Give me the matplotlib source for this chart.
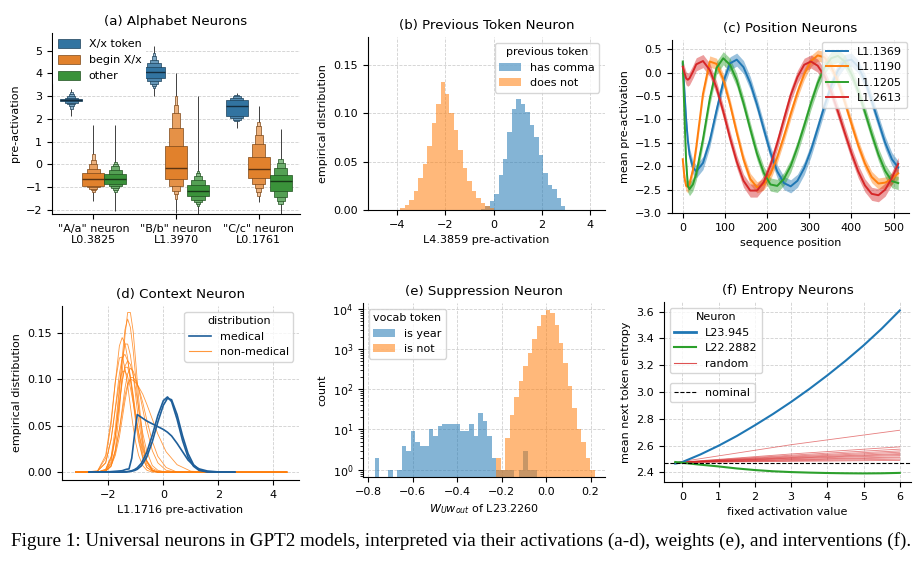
import numpy as np
import matplotlib
matplotlib.use("Agg")
import matplotlib.pyplot as plt
from matplotlib.patches import Patch
from matplotlib.lines import Line2D
from matplotlib.colors import to_rgb

plt.rcParams['font.family'] = 'DejaVu Sans'
plt.rcParams['font.size'] = 8
plt.rcParams['axes.titlesize'] = 9.6

# ---------------- (a) alphabet neurons (letter-value boxes, innermost first) ----------------
neuron_labels = ['"A/a" neuron\nL0.3825', '"B/b" neuron\nL1.3970', '"C/c" neuron\nL0.1761']
hue_names = ['X/x token', 'begin X/x', 'other']
hue_colors = ['#3274a1', '#e1812c', '#3a923a']

token_levels = [
    [(2.77, 2.88), (2.72, 2.93), (2.66, 3.00), (2.58, 3.08), (2.45, 3.18)],
    [(3.78, 4.30), (3.65, 4.45), (3.55, 4.60), (3.45, 4.75), (3.35, 4.90)],
    [(2.12, 2.83), (2.03, 2.93), (1.97, 3.00), (1.90, 3.05)],
]
token_medians = [2.83, 4.05, 2.58]
token_ranges = [(2.15, 3.33), (3.0, 5.2), (1.6, 3.12)]

begin_levels = [
    [(-0.93, -0.38), (-1.00, -0.20), (-1.07, 0.00), (-1.13, 0.20), (-1.22, 0.45)],
    [(-0.65, 0.80), (-0.95, 1.60), (-1.15, 2.25), (-1.30, 2.60), (-1.50, 3.00)],
    [(-0.60, 0.32), (-0.85, 0.90), (-1.05, 1.30), (-1.20, 1.70), (-1.40, 1.85)],
]
begin_medians = [-0.65, -0.17, -0.18]
begin_ranges = [(-1.6, 1.75), (-2.15, 4.0), (-1.65, 2.55)]

other_levels = [
    [(-0.86, -0.42), (-0.97, -0.25), (-1.05, -0.08), (-1.12, 0.03), (-1.20, 0.12)],
    [(-1.40, -0.90), (-1.55, -0.70), (-1.65, -0.50), (-1.75, -0.38), (-1.85, -0.30)],
    [(-1.18, -0.45), (-1.45, -0.15), (-1.60, 0.05), (-1.75, 0.22)],
]
other_medians = [-0.63, -1.15, -0.75]
other_ranges = [(-2.05, 1.72), (-2.2, 3.0), (-2.2, 1.55)]

# ---------------- (b) previous token neuron ----------------
b_bin_start = -3.86
b_bin_width = 0.1845
comma_probs = [0] * 18 + [0.001, 0.004, 0.009, 0.017, 0.036, 0.053, 0.081, 0.105, 0.115,
                          0.110, 0.101, 0.088, 0.076, 0.057, 0.038, 0.026, 0.022, 0.012, 0.004]
nocomma_probs = [0.002, 0.005, 0.010, 0.020, 0.033, 0.048, 0.066, 0.090, 0.110, 0.132,
                 0.120, 0.100, 0.083, 0.062, 0.043, 0.030, 0.020, 0.012, 0.007, 0.004,
                 0.002] + [0] * 16

# ---------------- (c) position neurons ----------------
positions = [0, 4, 8, 12, 16, 24, 32, 48, 64, 80, 96, 112, 128, 144, 160, 176, 192, 208,
             224, 240, 256, 272, 288, 304, 320, 336, 352, 368, 384, 400, 416, 432, 448,
             464, 480, 496, 511]
pos_names = ['L1.1369', 'L1.1190', 'L1.1205', 'L1.2613']
pos_1369 = [0.20, -0.40, -1.00, -1.45, -1.75, -2.02, -2.11, -1.93, -1.46, -0.81, -0.20,
            0.20, 0.28, 0.12, -0.22, -0.68, -1.20, -1.71, -2.11, -2.36, -2.43, -2.31,
            -2.04, -1.66, -1.19, -0.71, -0.28, 0.05, 0.25, 0.28, 0.13, -0.17, -0.60,
            -1.05, -1.50, -1.85, -2.03]
pos_1190 = [-1.85, -2.25, -2.42, -2.44, -2.38, -2.08, -1.59, -0.45, 0.24, 0.19, -0.14,
            -0.67, -1.28, -1.85, -2.27, -2.45, -2.39, -2.17, -1.81, -1.36, -0.88, -0.42,
            -0.03, 0.25, 0.37, 0.33, 0.13, -0.19, -0.62, -1.09, -1.55, -1.94, -2.23,
            -2.37, -2.35, -2.27, -2.15]
pos_1205 = [0.24, -0.90, -1.90, -2.42, -2.49, -2.39, -2.16, -1.42, -0.56, 0.10, 0.31,
            0.17, -0.16, -0.65, -1.20, -1.73, -2.14, -2.39, -2.42, -2.27, -1.99, -1.59,
            -1.13, -0.65, -0.22, 0.11, 0.31, 0.36, 0.24, -0.03, -0.39, -0.84, -1.31,
            -1.75, -2.10, -2.32, -2.36]
pos_2613 = [0.13, 0.00, -0.12, -0.15, -0.12, 0.02, 0.18, 0.25, 0.06, -0.32, -0.83,
            -1.39, -1.90, -2.31, -2.52, -2.52, -2.34, -1.98, -1.51, -0.99, -0.48, -0.09,
            0.17, 0.24, 0.15, -0.07, -0.41, -0.83, -1.28, -1.72, -2.11, -2.41, -2.59,
            -2.62, -2.50, -2.25, -1.95]
pos_band = [0.14, 0.12, 0.14, 0.14]

# ---------------- (d) context neuron ----------------
nonmed_x = [-3.2, -2.4, -2.1, -1.9, -1.75, -1.6, -1.5, -1.4, -1.3, -1.2, -1.1, -1.0, -0.9,
            -0.75, -0.6, -0.4, -0.2, 0.1, 0.5, 1.0, 1.6, 2.5, 4.5]
nonmed_curves = [
    [0, 0, 0.001, 0.006, 0.024, 0.066, 0.106, 0.146, 0.172, 0.172, 0.152, 0.117, 0.080, 0.036, 0.012, 0.002, 0, 0, 0, 0, 0, 0, 0],
    [0, 0, 0.001, 0.011, 0.037, 0.085, 0.123, 0.153, 0.165, 0.156, 0.132, 0.100, 0.068, 0.031, 0.011, 0.002, 0, 0, 0, 0, 0, 0, 0],
    [0, 0.001, 0.015, 0.052, 0.097, 0.136, 0.145, 0.139, 0.123, 0.100, 0.076, 0.052, 0.033, 0.015, 0.005, 0.001, 0, 0, 0, 0, 0, 0, 0],
    [0, 0, 0.003, 0.017, 0.047, 0.091, 0.120, 0.138, 0.138, 0.126, 0.105, 0.080, 0.055, 0.027, 0.011, 0.002, 0, 0, 0, 0, 0, 0, 0],
    [0, 0.001, 0.010, 0.035, 0.069, 0.106, 0.123, 0.127, 0.120, 0.104, 0.084, 0.062, 0.042, 0.020, 0.008, 0.002, 0, 0, 0, 0, 0, 0, 0],
    [0, 0, 0.003, 0.016, 0.039, 0.073, 0.096, 0.114, 0.120, 0.116, 0.105, 0.088, 0.069, 0.042, 0.022, 0.007, 0.002, 0, 0, 0, 0, 0, 0],
    [0, 0, 0.001, 0.007, 0.021, 0.046, 0.068, 0.090, 0.106, 0.112, 0.109, 0.101, 0.090, 0.068, 0.046, 0.023, 0.010, 0.002, 0, 0, 0, 0, 0],
    [0, 0.001, 0.010, 0.036, 0.067, 0.097, 0.108, 0.109, 0.103, 0.091, 0.075, 0.058, 0.043, 0.024, 0.012, 0.004, 0.001, 0, 0, 0, 0, 0, 0],
    [0, 0, 0.001, 0.007, 0.018, 0.038, 0.057, 0.076, 0.092, 0.102, 0.102, 0.098, 0.091, 0.075, 0.056, 0.033, 0.017, 0.005, 0, 0, 0, 0, 0],
    [0, 0, 0.002, 0.009, 0.023, 0.046, 0.064, 0.082, 0.095, 0.100, 0.099, 0.096, 0.092, 0.084, 0.073, 0.057, 0.041, 0.022, 0.008, 0.001, 0, 0, 0],
    [0, 0, 0.002, 0.014, 0.038, 0.075, 0.099, 0.113, 0.113, 0.101, 0.081, 0.058, 0.037, 0.016, 0.005, 0.001, 0, 0, 0, 0, 0, 0, 0],
    [0, 0.001, 0.018, 0.057, 0.097, 0.123, 0.124, 0.113, 0.094, 0.071, 0.049, 0.031, 0.018, 0.007, 0.002, 0, 0, 0, 0, 0, 0, 0, 0],
]
med_x = [-2.7, -2.0, -1.7, -1.5, -1.35, -1.25, -1.15, -1.05, -0.95, -0.8, -0.6, -0.4, -0.2,
         0.0, 0.15, 0.3, 0.5, 0.7, 0.9, 1.1, 1.3, 1.6, 2.0, 2.6]
med_curves = [
    [0, 0, 0, 0.0001, 0.0004, 0.0008, 0.0015, 0.0027, 0.0046, 0.0095, 0.0215, 0.040, 0.061, 0.077, 0.081, 0.076, 0.057, 0.034, 0.016, 0.0063, 0.0019, 0.0002, 0, 0],
    [0, 0, 0, 0, 0.0002, 0.0005, 0.001, 0.0017, 0.003, 0.0068, 0.0165, 0.033, 0.054, 0.072, 0.0795, 0.078, 0.062, 0.039, 0.020, 0.008, 0.0026, 0.0003, 0, 0],
    [0, 0.0003, 0.001, 0.0015, 0.003, 0.0035, 0.015, 0.040, 0.062, 0.059, 0.055, 0.052, 0.049, 0.046, 0.043, 0.039, 0.031, 0.022, 0.013, 0.0072, 0.0035, 0.0012, 0.0002, 0],
]

# ---------------- (e) suppression neuron ----------------
e_bin_start = -0.77
e_bin_width = 0.0202
year_counts = [2, 0, 0, 1, 0, 1, 4, 3, 9, 5, 4, 4, 10, 7, 12, 14, 14, 14, 14, 9, 9, 14, 7,
               25, 16, 7, 2, 1, 1, 1, 1, 0, 1, 3, 1, 1] + [0] * 13
notyear_counts = [0] * 27 + [2, 1, 6, 23, 64, 156, 370, 790, 1780, 3650, 7100, 9440, 7800,
                             3990, 1400, 445, 118, 34, 10, 5, 2, 1]

# ---------------- (f) entropy neurons ----------------
act_values = [-0.2, 0, 0.5, 1, 1.5, 2, 2.5, 3, 3.5, 4, 4.5, 5, 5.5, 6]
ent_945 = [2.466, 2.478, 2.535, 2.600, 2.672, 2.752, 2.836, 2.926, 3.022, 3.124, 3.232,
           3.347, 3.472, 3.608]
ent_2882 = [2.478, 2.472, 2.458, 2.445, 2.430, 2.418, 2.409, 2.403, 2.399, 2.396, 2.394,
            2.393, 2.394, 2.397]
rand_x = [-0.2, 3, 6]
rand_curves = [
    [2.474, 2.607, 2.715], [2.474, 2.538, 2.591], [2.474, 2.529, 2.574],
    [2.474, 2.522, 2.561], [2.474, 2.516, 2.551], [2.474, 2.511, 2.541],
    [2.474, 2.507, 2.534], [2.474, 2.503, 2.526], [2.474, 2.497, 2.516],
    [2.474, 2.493, 2.509], [2.474, 2.488, 2.499], [2.474, 2.483, 2.490],
]
nominal_entropy = 2.474


def lighten(c, t):
    r = np.array(to_rgb(c))
    return tuple(r + (1 - r) * t)


def darken(c, f=0.6):
    return tuple(np.array(to_rgb(c)) * f)


def style(ax, axis='both'):
    ax.spines['top'].set_visible(False)
    ax.spines['right'].set_visible(False)
    ax.grid(True, axis=axis, ls='--', lw=0.6, color='#d0d0d0')
    ax.set_axisbelow(True)


fig = plt.figure(figsize=(9.23, 5.70), dpi=100)
W, H = 923, 570


def axes_px(left, top, right, bottom):
    return fig.add_axes([left / W, 1 - bottom / H, (right - left) / W, (bottom - top) / H])


# (a)
ax = axes_px(52, 33, 300, 214)
style(ax, 'y')
hue_data = [(token_levels, token_medians, token_ranges),
            (begin_levels, begin_medians, begin_ranges),
            (other_levels, other_medians, other_ranges)]
slot = 0.8 / 3
for h, (levels, meds, rngs) in enumerate(hue_data):
    col = hue_colors[h]
    for n in range(3):
        x = n + (h - 1) * slot
        ax.vlines(x, rngs[n][0], rngs[n][1], color='0.25', lw=0.7, zorder=1)
        lv = levels[n]
        for i in range(len(lv) - 1, -1, -1):
            lo, hi = lv[i]
            ax.bar(x, hi - lo, bottom=lo, width=slot * 0.6 ** i,
                   color=lighten(col, 0.13 * i), edgecolor=darken(col, 0.55),
                   linewidth=0.5, zorder=2)
        ax.hlines(meds[n], x - slot / 2, x + slot / 2, color=darken(col, 0.4), lw=1, zorder=3)
ax.set_xlim(-0.5, 2.5)
ax.set_ylim(-2.18, 5.78)
ax.set_xticks(range(3))
ax.set_xticklabels(neuron_labels)
ax.set_ylabel('pre-activation')
ax.set_title('(a) Alphabet Neurons')
handles = [Patch(facecolor=c, edgecolor=darken(c, 0.55), lw=0.5) for c in hue_colors]
leg = ax.legend(handles, hue_names, loc='upper left', framealpha=1, borderaxespad=0.1,
                handleheight=0.9)
leg.get_frame().set_edgecolor('none')

# (b)
ax = axes_px(368, 37, 605, 210)
style(ax)
b_edges = b_bin_start + b_bin_width * np.arange(len(comma_probs))
ax.bar(b_edges, comma_probs, width=b_bin_width, align='edge', color='C0', alpha=0.55, lw=0)
ax.bar(b_edges, nocomma_probs, width=b_bin_width, align='edge', color='C1', alpha=0.55, lw=0)
ax.set_xlim(-5.2, 4.6)
ax.set_ylim(0, 0.179)
ax.set_xticks([-4, -2, 0, 2, 4])
ax.set_yticks([0, 0.05, 0.10, 0.15])
ax.set_xlabel('L4.3859 pre-activation')
ax.set_ylabel('empirical distribution')
ax.set_title('(b) Previous Token Neuron')
ax.legend([Patch(facecolor='C0', alpha=0.55), Patch(facecolor='C1', alpha=0.55)],
          ['has comma', 'does not'], title='previous token', loc='upper right')

# (c)
ax = axes_px(672, 40, 909, 213)
style(ax)
pos = np.array(positions)
for vals, name, col, band in zip([pos_1369, pos_1190, pos_1205, pos_2613], pos_names,
                                 ['C0', 'C1', 'C2', 'C3'], pos_band):
    v = np.array(vals)
    ax.fill_between(pos, v - band, v + band, color=col, alpha=0.45, lw=0)
    ax.plot(pos, v, color=col, lw=1.4, label=name)
ax.set_xlim(-25.5, 536.5)
ax.set_ylim(-3.0, 0.7)
ax.set_xticks([0, 100, 200, 300, 400, 500])
ax.set_yticks([-3.0, -2.5, -2.0, -1.5, -1.0, -0.5, 0.0, 0.5])
ax.set_xlabel('sequence position')
ax.set_ylabel('mean pre-activation')
ax.set_title('(c) Position Neurons')
ax.legend(loc='upper right', borderaxespad=0.2)

# (d)
ax = axes_px(62, 306, 299, 480)
style(ax)
for cv in nonmed_curves:
    ax.plot(nonmed_x, cv, color='C1', lw=0.6, alpha=0.8)
for cv in med_curves:
    ax.plot(med_x, cv, color='#1f5f9a', lw=1.2)
ax.set_xlim(-3.69, 4.94)
ax.set_ylim(-0.0085, 0.179)
ax.set_xticks([-2, 0, 2, 4])
ax.set_yticks([0, 0.05, 0.10, 0.15])
ax.set_xlabel('L1.1716 pre-activation')
ax.set_ylabel('empirical distribution')
ax.set_title('(d) Context Neuron')
ax.legend([Line2D([], [], color='#1f5f9a', lw=1.2), Line2D([], [], color='C1', lw=0.8, alpha=0.8)],
          ['medical', 'non-medical'], title='distribution', loc='upper right')

# (e)
ax = axes_px(363, 303, 605, 477)
style(ax)
ax.set_yscale('log')
e_edges = e_bin_start + e_bin_width * np.arange(len(year_counts))
yc = np.array(year_counts)
nc = np.array(notyear_counts)
ax.bar(e_edges[yc > 0], yc[yc > 0], width=e_bin_width, align='edge', color='C0', alpha=0.55, lw=0)
ax.bar(e_edges[nc > 0], nc[nc > 0], width=e_bin_width, align='edge', color='C1', alpha=0.55, lw=0)
ax.set_xlim(-0.823, 0.265)
ax.set_ylim(0.66, 13900)
ax.set_xticks([-0.8, -0.6, -0.4, -0.2, 0.0, 0.2])
ax.set_xlabel('$W_U w_{out}$ of L23.2260')
ax.set_ylabel('count')
ax.set_title('(e) Suppression Neuron')
ax.legend([Patch(facecolor='C0', alpha=0.55), Patch(facecolor='C1', alpha=0.55)],
          ['is year', 'is not'], title='vocab token', loc='upper left')

# (f)
ax = axes_px(664, 302, 911, 482)
style(ax)
for cv in rand_curves:
    ax.plot(rand_x, cv, color='C3', lw=0.6, alpha=0.6)
ax.plot(act_values, ent_945, color='C0', lw=1.5)
ax.plot(act_values, ent_2882, color='C2', lw=1.5)
ax.axhline(nominal_entropy, color='black', ls='--', lw=0.8)
ax.set_xlim(-0.51, 6.31)
ax.set_ylim(2.329, 3.671)
ax.set_xticks(range(7))
ax.set_xlabel('fixed activation value')
ax.set_ylabel('mean next token entropy')
ax.set_title('(f) Entropy Neurons')
leg1 = ax.legend([Line2D([], [], color='C0', lw=2), Line2D([], [], color='C2', lw=1.5),
                  Line2D([], [], color='C3', lw=0.8, alpha=0.8)],
                 ['L23.945', 'L22.2882', 'random'], title='Neuron', loc='upper left')
ax.add_artist(leg1)
ax.legend([Line2D([], [], color='black', ls='--', lw=0.8)], ['nominal'],
          loc='upper left', bbox_to_anchor=(0, 0.58))

fig.text(0.5, 0.051, 'Figure 1: Universal neurons in GPT2 models, interpreted via their '
         'activations (a-d), weights (e), and interventions (f).',
         ha='center', va='center', family='Liberation Serif', fontsize=13.8)

fig.savefig('out.png', dpi=100)
